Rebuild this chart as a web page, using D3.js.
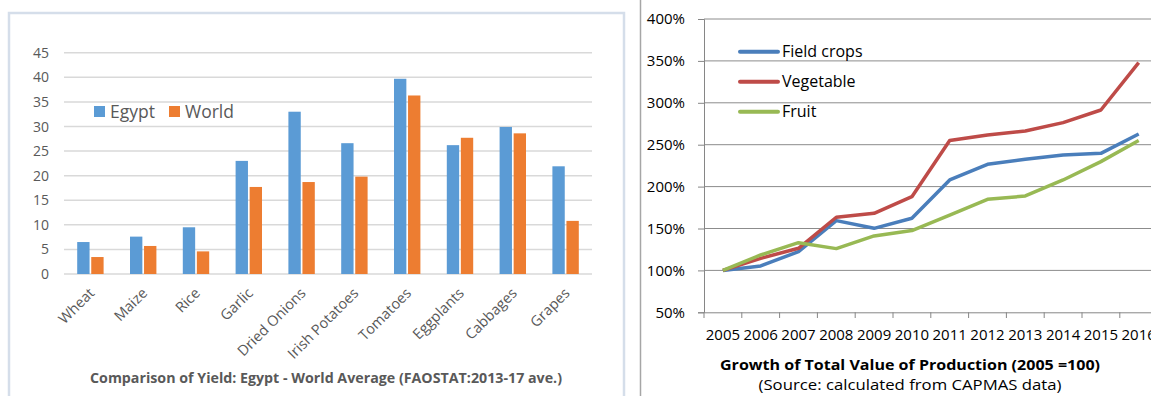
<!DOCTYPE html>
<html>
<head>
<meta charset="utf-8">
<script src="https://cdn.jsdelivr.net/npm/d3@7"></script>
<style>
  html, body { margin: 0; padding: 0; background: #fff; }
  svg { display: block; font-family: "Open Sans", sans-serif; }
</style>
</head>
<body>
<div id="chart"></div>
<script>
// left chart: yield comparison
const crops = ['Wheat', 'Maize', 'Rice', 'Garlic', 'Dried Onions', 'Irish Potatoes', 'Tomatoes', 'Eggplants', 'Cabbages', 'Grapes']
const egyptYield = [6.5, 7.6, 9.5, 23.0, 33.0, 26.6, 39.7, 26.2, 29.9, 21.9]
const worldYield = [3.45, 5.7, 4.6, 17.7, 18.7, 19.8, 36.3, 27.7, 28.6, 10.8]
const yieldSeries = ['Egypt', 'World']
const yieldTicks = [0, 5, 10, 15, 20, 25, 30, 35, 40, 45]

// right chart: growth of value of production
const years = [2005, 2006, 2007, 2008, 2009, 2010, 2011, 2012, 2013, 2014, 2015, 2016]
const fieldCrops = [100, 105.3, 122.4, 159.4, 150.2, 162.2, 207.9, 226.6, 232.6, 237.7, 239.7, 262.8]
const vegetable = [100, 114.4, 126.4, 163.4, 168.1, 188.0, 254.9, 261.6, 266.4, 276.3, 291.4, 347.9]
const fruit = [100, 118.4, 133.1, 126.0, 141.1, 147.5, 166.1, 184.8, 188.8, 207.9, 229.8, 254.9]
const growthNames = ['Field crops', 'Vegetable', 'Fruit']
const growthTicks = [50, 100, 150, 200, 250, 300, 350, 400]

const w = 1151
const h = 396

const svg = d3.select('#chart')
    .append('svg')
    .attr('width', w)
    .attr('height', h)

svg.append('rect').attr('width', w).attr('height', h).attr('fill', '#fff')

// ---------- left panel ----------
const left = svg.append('g')

left.append('path')
    .attr('d', 'M9,400 V13 H624 V400')
    .attr('fill', 'none')
    .attr('stroke', '#d5deea')
    .attr('stroke-width', 2.5)

const x0 = d3.scaleBand()
    .domain(crops)
    .range([64, 592])
    .paddingInner(0.5)
    .paddingOuter(0.25)

const x1 = d3.scaleBand()
    .domain(yieldSeries)
    .range([0, x0.bandwidth()])
    .paddingInner(0.12)

const yL = d3.scaleLinear()
    .domain([0, 45])
    .range([274, 52.7])

const barColors = d3.scaleOrdinal().domain(yieldSeries).range(['#5b9bd5', '#ed7d31'])

left.selectAll('line.grid')
    .data(yieldTicks)
    .enter()
    .append('line')
    .attr('class', 'grid')
    .attr('x1', 64)
    .attr('x2', 592)
    .attr('y1', d => yL(d))
    .attr('y2', d => yL(d))
    .attr('stroke', '#d9d9d9')
    .attr('stroke-width', 1.5)

left.selectAll('text.ytick')
    .data(yieldTicks)
    .enter()
    .append('text')
    .attr('class', 'ytick')
    .attr('x', 49)
    .attr('y', d => yL(d))
    .attr('dy', '0.36em')
    .attr('text-anchor', 'end')
    .attr('font-size', 14)
    .attr('fill', '#595959')
    .text(d => d)

const barData = crops.map((c, i) => ({crop: c, values: [
    {series: 'Egypt', value: egyptYield[i]},
    {series: 'World', value: worldYield[i]}
]}))

left.selectAll('g.crop')
    .data(barData)
    .enter()
    .append('g')
    .attr('class', 'crop')
    .attr('transform', d => `translate(${x0(d.crop)},0)`)
    .selectAll('rect')
    .data(d => d.values)
    .enter()
    .append('rect')
    .attr('x', d => x1(d.series))
    .attr('y', d => yL(d.value))
    .attr('width', x1.bandwidth())
    .attr('height', d => yL(0) - yL(d.value))
    .attr('fill', d => barColors(d.series))

left.selectAll('text.xtick')
    .data(crops)
    .enter()
    .append('text')
    .attr('class', 'xtick')
    .attr('transform', d => `translate(${x0(d) + x0.bandwidth() / 2 + 5},294) rotate(-45)`)
    .attr('text-anchor', 'end')
    .attr('font-size', 14.5)
    .attr('fill', '#595959')
    .text(d => d)

// legend
const legL = left.selectAll('g.leg')
    .data(yieldSeries)
    .enter()
    .append('g')
    .attr('class', 'leg')
    .attr('transform', (d, i) => `translate(${94 + i * 75},106)`)

legL.append('rect')
    .attr('width', 11)
    .attr('height', 11)
    .attr('fill', d => barColors(d))

legL.append('text')
    .attr('x', 16)
    .attr('y', 11.5)
    .attr('font-size', 17.5)
    .attr('fill', '#595959')
    .text(d => d)

left.append('text')
    .attr('x', 326)
    .attr('y', 383)
    .attr('text-anchor', 'middle')
    .attr('font-size', 13.5)
    .attr('font-weight', 'bold')
    .attr('fill', '#595959')
    .attr('textLength', 472)
    .attr('lengthAdjust', 'spacingAndGlyphs')
    .text('Comparison of Yield: Egypt - World Average (FAOSTAT:2013-17 ave.)')

// divider
svg.append('line')
    .attr('x1', 640.5).attr('x2', 640.5)
    .attr('y1', 0).attr('y2', h)
    .attr('stroke', '#a6a6a6')
    .attr('stroke-width', 1.5)

// ---------- right panel ----------
const right = svg.append('g')

const xR = d3.scaleBand()
    .domain(years)
    .range([704, 704 + 12 * 37.8])

const yR = d3.scaleLinear()
    .domain([50, 400])
    .range([312.3, 19])

right.selectAll('line.grid')
    .data(growthTicks.slice(1))
    .enter()
    .append('line')
    .attr('class', 'grid')
    .attr('x1', 704)
    .attr('x2', w)
    .attr('y1', d => yR(d))
    .attr('y2', d => yR(d))
    .attr('stroke', '#8c8c8c')
    .attr('stroke-width', 1)

right.append('g')
    .attr('transform', 'translate(704,0)')
    .call(d3.axisLeft(yR).tickValues(growthTicks).tickSize(6).tickFormat(d => d + '%'))
    .call(g => g.select('.domain').attr('stroke', '#868686'))
    .call(g => g.selectAll('.tick line').attr('stroke', '#868686'))
    .call(g => g.selectAll('text')
        .attr('x', -19)
        .attr('font-size', 15)
        .attr('font-family', '"Open Sans", sans-serif')
        .attr('fill', '#000'))

right.append('g')
    .attr('transform', 'translate(0,312.3)')
    .call(d3.axisBottom(xR).tickSize(0).tickPadding(17))
    .call(g => g.select('.domain').attr('stroke', '#868686'))
    .call(g => g.selectAll('text')
        .attr('font-size', 15)
        .attr('font-family', '"Open Sans", sans-serif')
        .attr('fill', '#000'))

right.selectAll('line.xtickmark')
    .data(years)
    .enter()
    .append('line')
    .attr('class', 'xtickmark')
    .attr('x1', d => xR(d))
    .attr('x2', d => xR(d))
    .attr('y1', 312.3)
    .attr('y2', 318)
    .attr('stroke', '#868686')

const lineColors = ['#4a7ebb', '#be4b48', '#98b954']
const growthData = [fieldCrops, vegetable, fruit]

const line = d3.line()
    .x((d, i) => xR(years[i]) + xR.bandwidth() / 2)
    .y(d => yR(d))

right.selectAll('path.series')
    .data(growthData)
    .enter()
    .append('path')
    .attr('class', 'series')
    .attr('d', line)
    .attr('fill', 'none')
    .attr('stroke', (d, i) => lineColors[i])
    .attr('stroke-width', 3.5)
    .attr('stroke-linejoin', 'round')

const legR = right.selectAll('g.leg')
    .data(growthNames)
    .enter()
    .append('g')
    .attr('class', 'leg')
    .attr('transform', (d, i) => `translate(740,${51.7 + i * 30})`)

legR.append('line')
    .attr('x1', 0)
    .attr('x2', 38)
    .attr('stroke', (d, i) => lineColors[i])
    .attr('stroke-width', 4)
    .attr('stroke-linecap', 'round')

legR.append('text')
    .attr('x', 42)
    .attr('dy', '0.36em')
    .attr('font-size', 16)
    .attr('fill', '#000')
    .text(d => d)

right.append('text')
    .attr('x', 910)
    .attr('y', 370)
    .attr('text-anchor', 'middle')
    .attr('font-size', 15)
    .attr('font-weight', 'bold')
    .attr('fill', '#000')
    .attr('textLength', 380)
    .attr('lengthAdjust', 'spacingAndGlyphs')
    .text('Growth of Total Value of Production (2005 =100)')

right.append('text')
    .attr('x', 910)
    .attr('y', 390)
    .attr('text-anchor', 'middle')
    .attr('font-size', 14.5)
    .attr('fill', '#000')
    .attr('textLength', 303)
    .attr('lengthAdjust', 'spacingAndGlyphs')
    .text('(Source: calculated from CAPMAS data)')
</script>
</body>
</html>
